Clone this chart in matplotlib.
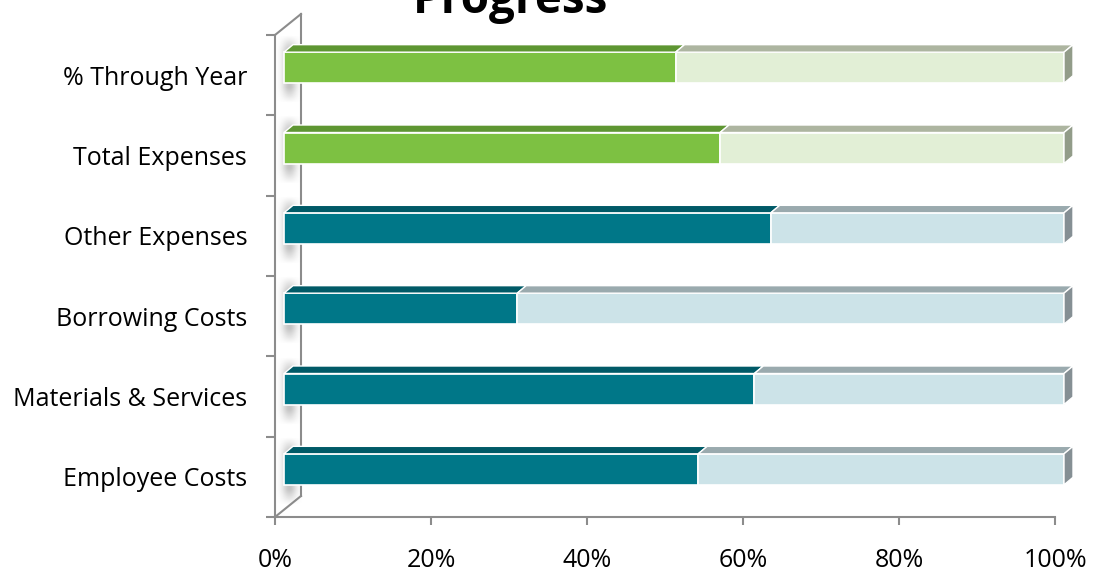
import numpy as np
import matplotlib as mpl
mpl.use('Agg')
import matplotlib.pyplot as plt
from matplotlib.patches import Polygon

plt.rcParams['font.family'] = ['Open Sans', 'DejaVu Sans']

# data (bottom to top)
categories = ['Employee Costs', 'Materials & Services', 'Borrowing Costs',
              'Other Expenses', 'Total Expenses', '% Through Year']
progress = [53.1, 60.3, 29.9, 62.4, 55.9, 50.2]
is_total = [False, False, False, False, True, True]
xticks = [0, 20, 40, 60, 80, 100]
xticklabels = ['0%', '20%', '40%', '60%', '80%', '100%']

# colours: (front, top, side)
teal_done = ('#007788', '#005A67')
teal_left = ('#CCE3E8', '#9AAAAE', '#858F94')
green_done = ('#7DC142', '#5E9632')
green_left = ('#E2EFD6', '#ADB5A0', '#929C89')
axis_grey = '#8C8C8C'

W, H = 1094, 572
fig = plt.figure(figsize=(W / 100, H / 100), dpi=100)
ax = fig.add_axes([275 / W, 55 / H, 780 / W, 482 / H])
ax.set_xlim(0, 100)
ax.set_ylim(-0.5, 5.5)

# pseudo-3d offsets in data units
px_x = 100 / 780.0
px_y = 6 / 482.0
ddx, ddy = 9 * px_x, 7.5 * px_y      # depth step of the bars
wall_x, wall_y = 26 * px_x, 21 * px_y  # back wall offset
bh = 31 * px_y

y = np.arange(len(categories))
yc = y + ddy

# back wall lines
ax.plot([wall_x, wall_x], [-0.5 + wall_y, 5.5 + wall_y], color=axis_grey,
        lw=1.5, zorder=1, clip_on=False)
ax.plot([0, wall_x], [5.5, 5.5 + wall_y], color=axis_grey, lw=1.5,
        zorder=1, clip_on=False)
ax.plot([0, wall_x], [-0.5, -0.5 + wall_y], color=axis_grey, lw=1.5,
        zorder=1, clip_on=False)

# soft shadows of the bars on the wall
gx = np.linspace(-1, 1, 40)
gy = np.linspace(-1, 1, 80)
GX, GY = np.meshgrid(gx, gy)
alpha = 0.42 * np.exp(-(GX / 0.6) ** 2) * np.clip((1 - np.abs(GY)) * 2.2, 0, 1)
shadow = np.zeros((len(gy), len(gx), 4))
shadow[..., :3] = 0.45
shadow[..., 3] = alpha
for c in yc:
    ax.imshow(shadow, extent=[0.2, 3.4, c - bh / 2 - 20 * px_y,
                              c + bh / 2 + 17 * px_y],
              aspect='auto', interpolation='bilinear', zorder=1.5)

for i in range(len(categories)):
    done = green_done if is_total[i] else teal_done
    left = green_left if is_total[i] else teal_left
    v = progress[i]
    c = yc[i]
    ax.barh(c, v, left=ddx, height=bh, color=done[0], edgecolor='white',
            lw=1.2, zorder=3, clip_on=False)
    ax.barh(c, 100 - v, left=ddx + v, height=bh, color=left[0],
            edgecolor='white', lw=1.2, zorder=3, clip_on=False)
    top = c + bh / 2
    for x0, x1, col in [(0, v, done[1]), (v, 100, left[1])]:
        ax.add_patch(Polygon([(ddx + x0, top), (2 * ddx + x0, top + ddy),
                              (2 * ddx + x1, top + ddy), (ddx + x1, top)],
                             closed=True, facecolor=col, edgecolor='white',
                             lw=1.0, zorder=3, clip_on=False))
    ax.add_patch(Polygon([(ddx + 100, top), (2 * ddx + 100, top + ddy),
                          (2 * ddx + 100, top + ddy - bh), (ddx + 100, top - bh)],
                         closed=True, facecolor=left[2], edgecolor='white',
                         lw=1.0, zorder=3, clip_on=False))

ax.set_xlim(0, 100)
ax.set_ylim(-0.5, 5.5)
for s in ['top', 'right']:
    ax.spines[s].set_visible(False)
for s in ['left', 'bottom']:
    ax.spines[s].set_color(axis_grey)
    ax.spines[s].set_linewidth(1.5)

ax.set_xticks(xticks)
ax.set_xticklabels(xticklabels, fontsize=18)
ax.tick_params(axis='x', length=6, width=1.5, color=axis_grey, pad=16)
ax.set_yticks(y)
ax.set_yticklabels(categories, fontsize=18)
ax.set_yticks(np.arange(-0.5, 6, 1), minor=True)
ax.tick_params(axis='y', which='major', length=0, pad=20)
ax.tick_params(axis='y', which='minor', length=6.5, width=1.5, color=axis_grey)

fig.text(511 / W, 1 - 13 / H, 'Progress', ha='center', va='baseline',
         fontsize=33, fontweight='bold')

fig.savefig('out.png', dpi=100)
